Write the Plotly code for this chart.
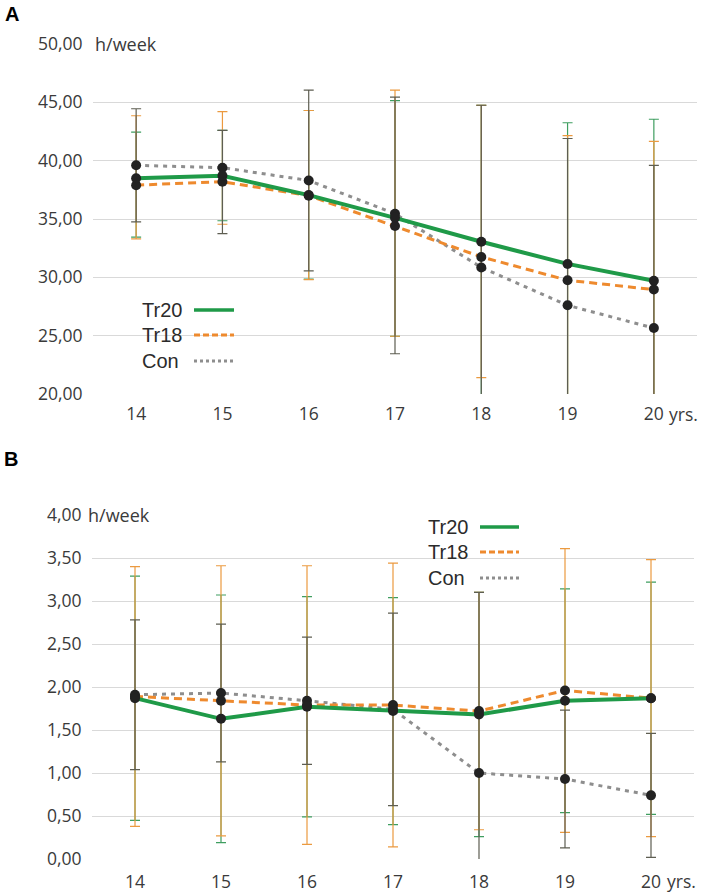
import plotly.graph_objects as go

W, H = 708, 896

ages = [14, 15, 16, 17, 18, 19, 20]
age_labels = ["14", "15", "16", "17", "18", "19", "20"]
series_names = ["Tr20", "Tr18", "Con"]

# ---- Panel A (h/week) ----
a_tr20 = [38.50, 38.70, 37.05, 35.10, 33.05, 31.15, 29.70]
a_tr18 = [37.90, 38.20, 37.00, 34.40, 31.75, 29.75, 28.95]
a_con = [39.60, 39.40, 38.30, 35.45, 30.85, 27.60, 25.65]
# error bar ends (upper / lower)
a_tr20_hi = [42.45, 42.60, 44.30, 45.15, 44.75, 43.25, 43.55]
a_tr20_lo = [33.45, 34.85, 29.85, 24.95, 18.00, 19.00, 15.80]
a_tr18_hi = [43.85, 44.20, 44.30, 46.05, 44.75, 42.15, 41.65]
a_tr18_lo = [33.30, 34.55, 29.80, 24.95, 21.40, 17.30, 16.20]
a_con_hi = [44.45, 42.60, 46.05, 45.45, 44.75, 41.90, 39.60]
a_con_lo = [34.75, 33.75, 30.55, 23.45, 17.00, 13.30, 11.70]
a_ticks = [20, 25, 30, 35, 40, 45, 50]

# ---- Panel B (h/week) ----
b_tr20 = [1.87, 1.63, 1.77, 1.72, 1.68, 1.84, 1.87]
b_tr18 = [1.89, 1.84, 1.79, 1.79, 1.72, 1.96, 1.87]
b_con = [1.91, 1.93, 1.84, 1.74, 1.00, 0.93, 0.74]
b_tr20_sd = [1.42, 1.44, 1.28, 1.32, 1.42, 1.30, 1.35]
b_tr18_sd = [1.51, 1.57, 1.62, 1.65, 1.38, 1.65, 1.61]
b_con_sd = [0.87, 0.80, 0.74, 1.12, 2.10, 0.80, 0.72]
b_ticks = [0, 0.5, 1, 1.5, 2, 2.5, 3, 3.5, 4]

LINE_COL = {"Tr20": "#1f9a48", "Tr18": "#ee8a2e", "Con": "#8e8e8e"}
ERR_COL = {"Tr20": "#3f9e60", "Tr18": "#eb9a40", "Con": "#5e5e52"}
LINE_W = {"Tr20": 4, "Tr18": 3, "Con": 3}
LINE_DASH = {"Tr20": "solid", "Tr18": "8px,5px", "Con": "4px,5px"}
DOT_COL = "#222222"

TICK_FONT = dict(family="Open Sans", size=17.5, color="#3a3a3a")
LEG_FONT = dict(family="Liberation Sans", size=20, color="#2b2b2b")


def px_x(x):
    return x / W


def px_y(y):
    return 1 - y / H


fig = go.Figure()

panels = [
    ("x", "y", {"Tr20": a_tr20, "Tr18": a_tr18, "Con": a_con},
     {"Tr20": (a_tr20_hi, a_tr20_lo), "Tr18": (a_tr18_hi, a_tr18_lo), "Con": (a_con_hi, a_con_lo)}, None),
    ("x2", "y2", {"Tr20": b_tr20, "Tr18": b_tr18, "Con": b_con},
     None, {"Tr20": b_tr20_sd, "Tr18": b_tr18_sd, "Con": b_con_sd}),
]

for xa, ya, means, bounds, sds in panels:
    # error bars first (beneath lines and dots)
    for name in ["Tr20", "Tr18", "Con"]:
        m = means[name]
        if bounds is not None:
            hi, lo = bounds[name]
            err = dict(type="data", symmetric=False,
                       array=[h - v for h, v in zip(hi, m)],
                       arrayminus=[v - l for l, v in zip(lo, m)],
                       color=ERR_COL[name], thickness=1.2, width=5)
        else:
            err = dict(type="data", symmetric=True, array=sds[name],
                       color=ERR_COL[name], thickness=1.2, width=5)
        fig.add_trace(go.Scatter(x=ages, y=m, xaxis=xa, yaxis=ya, mode="markers",
                                 marker=dict(size=2, color="rgba(0,0,0,0)"),
                                 error_y=err, showlegend=False, hoverinfo="skip"))
    # lines
    for name in ["Con", "Tr18", "Tr20"]:
        fig.add_trace(go.Scatter(x=ages, y=means[name], xaxis=xa, yaxis=ya, mode="lines",
                                 line=dict(color=LINE_COL[name], width=LINE_W[name],
                                           dash=LINE_DASH[name]),
                                 name=name, showlegend=False))
    # dots
    for name in ["Con", "Tr18", "Tr20"]:
        fig.add_trace(go.Scatter(x=ages, y=means[name], xaxis=xa, yaxis=ya, mode="markers",
                                 marker=dict(size=10, color=DOT_COL),
                                 showlegend=False, hoverinfo="skip"))

common_x = dict(range=[13.5, 20.5], tickvals=ages, ticktext=age_labels, showgrid=False,
                zeroline=False, showline=False, ticks="outside",
                tickcolor="rgba(0,0,0,0)", tickfont=TICK_FONT, automargin=False, fixedrange=True)
common_y = dict(showgrid=True, gridcolor="#d9d9d9", gridwidth=1, zeroline=False, showline=False,
                ticks="outside", ticklen=6, tickcolor="rgba(0,0,0,0)", tickfont=TICK_FONT,
                tickformat=".2f", automargin=False, fixedrange=True)

fig.update_layout(
    width=W, height=H,
    margin=dict(l=0, r=0, t=0, b=0),
    paper_bgcolor="white", plot_bgcolor="white",
    separators=",.",
    showlegend=False,
    xaxis=dict(domain=[px_x(93), px_x(697)], anchor="y", ticklen=4, **common_x),
    yaxis=dict(domain=[px_y(394), px_y(44)], anchor="x", range=[20, 50], tickvals=a_ticks, **common_y),
    xaxis2=dict(domain=[px_x(92), px_x(694)], anchor="y2", ticklen=7, **common_x),
    yaxis2=dict(domain=[px_y(859), px_y(515)], anchor="x2", range=[0, 4], tickvals=b_ticks, **common_y),
)

ann = []
# panel letters
ann.append(dict(text="<b>A</b>", xref="paper", yref="paper", x=px_x(3), y=px_y(14),
                xanchor="left", yanchor="middle", showarrow=False,
                font=dict(family="Liberation Sans", size=20, color="black")))
ann.append(dict(text="<b>B</b>", xref="paper", yref="paper", x=px_x(2), y=px_y(459),
                xanchor="left", yanchor="middle", showarrow=False,
                font=dict(family="Liberation Sans", size=20, color="black")))
# unit labels
ann.append(dict(text="h/week", xref="paper", yref="y", x=px_x(93), y=50, xanchor="left",
                yanchor="middle", showarrow=False, bgcolor="white", xshift=0,
                font=dict(family="Open Sans", size=18, color="#3a3a3a")))
ann.append(dict(text="h/week", xref="paper", yref="y2", x=px_x(92), y=4, xanchor="left",
                yanchor="middle", showarrow=False, bgcolor="white", xshift=-6,
                font=dict(family="Open Sans", size=18, color="#3a3a3a")))
# "yrs." after the last age label
ann.append(dict(text="yrs.", xref="x", yref="paper", x=20, y=px_y(414), xanchor="left",
                yanchor="middle", showarrow=False, xshift=13, font=TICK_FONT))
ann.append(dict(text="yrs.", xref="x2", yref="paper", x=20, y=px_y(881), xanchor="left",
                yanchor="middle", showarrow=False, xshift=14, font=TICK_FONT))

# legends (text followed by line sample)
legend_specs = [
    (140, 194, 234, [310, 335, 361]),
    (426, 480, 519, [527, 552, 578]),
]
shapes = []
LEG_DASH = {"Tr20": "solid", "Tr18": "6px,3px", "Con": "3px,3px"}
for tx, lx0, lx1, ys in legend_specs:
    for name, yy in zip(series_names, ys):
        ann.append(dict(text=name, xref="paper", yref="paper", x=px_x(tx), y=px_y(yy),
                        xanchor="left", yanchor="middle", showarrow=False, font=LEG_FONT))
        shapes.append(dict(type="line", xref="paper", yref="paper",
                           x0=px_x(lx0), x1=px_x(lx1), y0=px_y(yy), y1=px_y(yy),
                           line=dict(color=LINE_COL[name], width=3.5 if name == "Tr20" else 3,
                                     dash=LEG_DASH[name])))

fig.update_layout(annotations=ann, shapes=shapes)

fig.write_html("out.html",
               config={"displayModeBar": False},
               post_script="document.body.style.margin='0';document.body.style.padding='0';")
